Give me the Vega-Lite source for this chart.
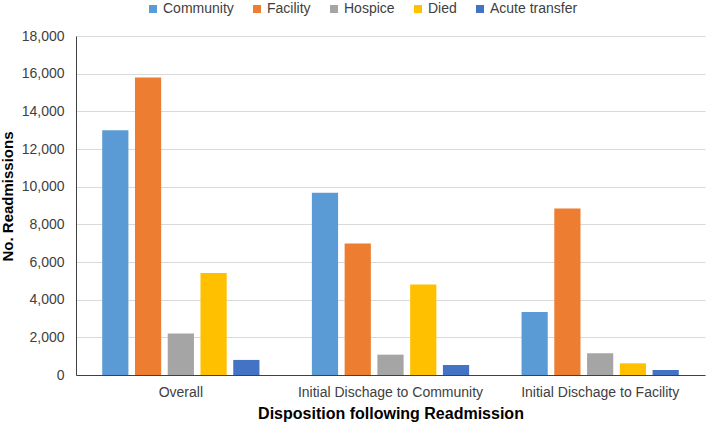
{
  "$schema": "https://vega.github.io/schema/vega-lite/v6.json",
  "width": 629,
  "height": 339,
  "autosize": "none",
  "padding": {"left": 76, "top": 36, "right": 1, "bottom": 48},
  "background": "white",
  "data": {
    "values": [
      {"group": "Overall", "disposition": "Community", "count": 13000},
      {"group": "Overall", "disposition": "Facility", "count": 15800},
      {"group": "Overall", "disposition": "Hospice", "count": 2210},
      {"group": "Overall", "disposition": "Died", "count": 5420},
      {"group": "Overall", "disposition": "Acute transfer", "count": 800},
      {"group": "Initial Dischage to Community", "disposition": "Community", "count": 9680},
      {"group": "Initial Dischage to Community", "disposition": "Facility", "count": 6980},
      {"group": "Initial Dischage to Community", "disposition": "Hospice", "count": 1080},
      {"group": "Initial Dischage to Community", "disposition": "Died", "count": 4810},
      {"group": "Initial Dischage to Community", "disposition": "Acute transfer", "count": 530},
      {"group": "Initial Dischage to Facility", "disposition": "Community", "count": 3340},
      {"group": "Initial Dischage to Facility", "disposition": "Facility", "count": 8840},
      {"group": "Initial Dischage to Facility", "disposition": "Hospice", "count": 1150},
      {"group": "Initial Dischage to Facility", "disposition": "Died", "count": 620},
      {"group": "Initial Dischage to Facility", "disposition": "Acute transfer", "count": 265}
    ]
  },
  "mark": {"type": "bar"},
  "encoding": {
    "x": {
      "field": "group",
      "type": "nominal",
      "sort": ["Overall", "Initial Dischage to Community", "Initial Dischage to Facility"],
      "scale": {"paddingInner": 0, "paddingOuter": 0},
      "title": "Disposition following Readmission",
      "axis": {
        "labelAngle": 0,
        "labelFontSize": 14,
        "labelColor": "#404040",
        "labelPadding": 10,
        "labelLimit": 0,
        "ticks": false,
        "grid": false,
        "domainColor": "#404040",
        "domainWidth": 1,
        "titleFontSize": 16,
        "titleFontWeight": "bold",
        "titleColor": "#000000",
        "titlePadding": 6
      }
    },
    "xOffset": {
      "field": "disposition",
      "type": "nominal",
      "sort": ["Community", "Facility", "Hospice", "Died", "Acute transfer"],
      "scale": {"paddingInner": 0.2, "paddingOuter": 0.8}
    },
    "y": {
      "field": "count",
      "type": "quantitative",
      "scale": {"domain": [0, 18000], "nice": false},
      "title": "No. Readmissions",
      "axis": {
        "values": [0, 2000, 4000, 6000, 8000, 10000, 12000, 14000, 16000, 18000],
        "format": ",.0f",
        "labelFontSize": 14,
        "labelColor": "#404040",
        "labelPadding": 12,
        "ticks": false,
        "gridColor": "#D9D9D9",
        "gridWidth": 1,
        "domainColor": "#404040",
        "domainWidth": 1,
        "titleFontSize": 15,
        "titleFontWeight": "bold",
        "titleColor": "#000000",
        "titleX": -61,
        "titleY": 160
      }
    },
    "color": {
      "field": "disposition",
      "type": "nominal",
      "sort": ["Community", "Facility", "Hospice", "Died", "Acute transfer"],
      "scale": {
        "domain": ["Community", "Facility", "Hospice", "Died", "Acute transfer"],
        "range": ["#5B9BD5", "#ED7D31", "#A5A5A5", "#FFC000", "#4472C4"]
      },
      "legend": {
        "orient": "none",
        "legendX": 70,
        "legendY": -34,
        "direction": "horizontal",
        "title": null,
        "symbolType": "square",
        "symbolSize": 64,
        "labelFontSize": 14,
        "labelColor": "#404040",
        "labelOffset": 3,
        "columnPadding": 16
      }
    }
  },
  "config": {
    "view": {"stroke": null},
    "font": "Liberation Sans"
  }
}
